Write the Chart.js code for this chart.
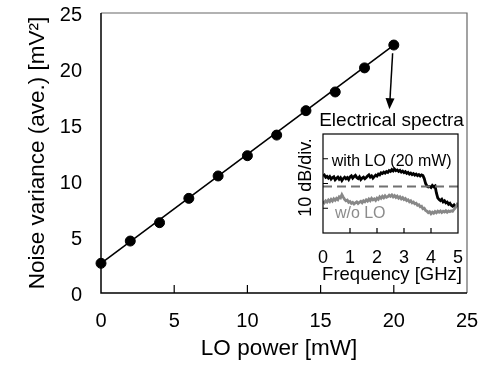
<!DOCTYPE html>
<html lang="en">
<head>
<meta charset="UTF-8">
<title>Noise variance vs LO power</title>
<script src="https://cdn.jsdelivr.net/npm/chart.js"></script>
<style>
  html, body { margin: 0; padding: 0; background: #fff; }
  #wrap { position: relative; width: 487px; height: 367px; }
  #mainChart { position: absolute; left: 0; top: 0; }
  #insetChart { position: absolute; left: 280px; top: 100px; }
</style>
</head>
<body>
<div id="wrap">
  <canvas id="mainChart" width="487" height="367" style="width:487px;height:367px"></canvas>
  <canvas id="insetChart" width="187" height="190" style="width:187px;height:190px"></canvas>
</div>
<script>
// main plot: noise variance vs LO power
const loPower = [0, 2, 4, 6, 8, 10, 12, 14, 16, 18, 20];
const noiseVar = [2.65, 4.64, 6.28, 8.45, 10.45, 12.26, 14.1, 16.28, 17.95, 20.1, 22.14];
const fitPower = [0, 20];
const fitVar = [2.65, 22.14];
const xTicks = [0, 5, 10, 15, 20, 25];
const yTicks = [0, 5, 10, 15, 20, 25];
// arrow from the 20 mW point down to the inset (data units)
const arrowStart = [19.92, 21.4];
const arrowEnd = [19.7, 16.4];

// inset: electrical spectra (10 dB/div, values in divisions)
const freq = [0.00, 0.05, 0.10, 0.15, 0.20, 0.25, 0.30, 0.35, 0.40, 0.45,
  0.50, 0.55, 0.60, 0.65, 0.70, 0.75, 0.80, 0.85, 0.90, 0.95,
  1.00, 1.05, 1.10, 1.15, 1.20, 1.25, 1.30, 1.35, 1.40, 1.45,
  1.50, 1.55, 1.60, 1.65, 1.70, 1.75, 1.80, 1.85, 1.90, 1.95,
  2.00, 2.05, 2.10, 2.15, 2.20, 2.25, 2.30, 2.35, 2.40, 2.45,
  2.50, 2.55, 2.60, 2.65, 2.70, 2.75, 2.80, 2.85, 2.90, 2.95,
  3.00, 3.05, 3.10, 3.15, 3.20, 3.25, 3.30, 3.35, 3.40, 3.45,
  3.50, 3.55, 3.60, 3.65, 3.70, 3.75, 3.80, 3.85, 3.90, 3.95,
  4.00, 4.05, 4.10, 4.15, 4.20, 4.25, 4.30, 4.35, 4.40, 4.45,
  4.50, 4.55, 4.60, 4.65, 4.70, 4.75, 4.80, 4.85, 4.90, 4.95, 5.00];
const withLO = [2.30, 2.34, 2.25, 2.29, 2.22, 2.28, 2.18, 2.24, 2.27, 2.15,
  2.21, 2.26, 2.17, 2.23, 2.12, 2.20, 2.25, 2.19, 2.24, 2.16,
  2.27, 2.31, 2.22, 2.28, 2.33, 2.24, 2.20, 2.27, 2.16, 2.22,
  2.26, 2.19, 2.24, 2.30, 2.35, 2.26, 2.31, 2.22, 2.28, 2.34,
  2.30, 2.38, 2.35, 2.43, 2.40, 2.46, 2.42, 2.48, 2.45, 2.52,
  2.49, 2.56, 2.51, 2.58, 2.52, 2.55, 2.49, 2.53, 2.46, 2.50,
  2.44, 2.48, 2.41, 2.45, 2.38, 2.42, 2.36, 2.40, 2.34, 2.38,
  2.32, 2.36, 2.30, 2.35, 2.32, 2.20, 2.00, 1.90, 1.86, 1.88,
  1.84, 1.92, 1.87, 1.90, 1.62, 1.42, 1.35, 1.31, 1.36, 1.26,
  1.30, 1.22, 1.25, 1.16, 1.20, 1.12, 1.08, 1.13, 1.04, 1.10, 1.20];
const withoutLO = [1.28, 1.22, 1.30, 1.25, 1.33, 1.27, 1.36, 1.29, 1.38, 1.32,
  1.40, 1.35, 1.46, 1.42, 1.55, 1.45, 1.36, 1.30, 1.33, 1.24,
  1.27, 1.20, 1.24, 1.17, 1.22, 1.26, 1.19, 1.24, 1.28, 1.22,
  1.30, 1.26, 1.34, 1.29, 1.37, 1.31, 1.40, 1.34, 1.38, 1.32,
  1.41, 1.36, 1.46, 1.40, 1.48, 1.42, 1.50, 1.44, 1.47, 1.53,
  1.48, 1.54, 1.46, 1.51, 1.44, 1.49, 1.41, 1.46, 1.38, 1.43,
  1.35, 1.39, 1.31, 1.34, 1.26, 1.30, 1.22, 1.25, 1.18, 1.20,
  1.12, 1.14, 1.06, 1.08, 0.98, 1.00, 0.91, 0.88, 0.82, 0.86,
  0.78, 0.84, 0.80, 0.87, 0.82, 0.88, 0.84, 0.89, 0.83, 0.88,
  0.85, 0.90, 0.84, 0.89, 0.86, 0.90, 0.88, 0.95, 1.02, 1.10, 1.22];
const dashLevel = 1.88;
const freqTicks = [0, 1, 2, 3, 4, 5];
const divTicks = [1, 2, 3];

const FONT = "'Liberation Sans', Arial, sans-serif";
Chart.defaults.font.family = FONT;
Chart.defaults.color = '#000';

function pts(xs, ys) {
  return xs.map((x, i) => ({ x: x, y: ys[i] }));
}

const mainDeco = {
  id: 'mainDeco',
  beforeDatasetsDraw(chart) {
    const { ctx, chartArea: a, scales } = chart;
    ctx.save();
    // top and right frame
    ctx.strokeStyle = '#666';
    ctx.lineWidth = 1.2;
    ctx.beginPath();
    ctx.moveTo(a.left, a.top);
    ctx.lineTo(a.right, a.top);
    ctx.lineTo(a.right, a.bottom);
    ctx.stroke();
    // axes
    ctx.strokeStyle = '#000';
    ctx.lineWidth = 1.5;
    ctx.beginPath();
    ctx.moveTo(a.left, a.top);
    ctx.lineTo(a.left, a.bottom);
    ctx.lineTo(a.right, a.bottom);
    ctx.stroke();
    // inward ticks on x axis
    ctx.lineWidth = 1.2;
    ctx.beginPath();
    xTicks.slice(1, -1).forEach(v => {
      const px = scales.x.getPixelForValue(v);
      ctx.moveTo(px, a.bottom);
      ctx.lineTo(px, a.bottom - 8);
    });
    ctx.stroke();

    // tick labels and titles
    ctx.fillStyle = '#000';
    ctx.font = '20px ' + FONT;
    ctx.textBaseline = 'alphabetic';
    ctx.textAlign = 'center';
    xTicks.forEach(v => ctx.fillText(String(v), scales.x.getPixelForValue(v), 327));
    ctx.textAlign = 'right';
    yTicks.forEach(v => ctx.fillText(String(v), 82, scales.y.getPixelForValue(v) + 8));

    ctx.font = '22.5px ' + FONT;
    ctx.textAlign = 'center';
    ctx.fillText('LO power [mW]', 279, 355);

    ctx.save();
    ctx.translate(43.5, (a.top + a.bottom) / 2);
    ctx.rotate(-Math.PI / 2);
    ctx.font = '22.5px ' + FONT;
    ctx.textAlign = 'center';
    ctx.fillText('Noise variance (ave.) [mV²]', 0, 0);
    ctx.restore();
    ctx.restore();
  },
  afterDatasetsDraw(chart) {
    const { ctx, scales } = chart;
    const x0 = scales.x.getPixelForValue(arrowStart[0]);
    const y0 = scales.y.getPixelForValue(arrowStart[1]);
    const x1 = scales.x.getPixelForValue(arrowEnd[0]);
    const y1 = scales.y.getPixelForValue(arrowEnd[1]);
    const ang = Math.atan2(y1 - y0, x1 - x0);
    const c = Math.cos(ang), s = Math.sin(ang);
    ctx.save();
    ctx.strokeStyle = '#000';
    ctx.fillStyle = '#000';
    ctx.lineWidth = 1.5;
    ctx.beginPath();
    ctx.moveTo(x0, y0);
    ctx.lineTo(x1 - 8 * c, y1 - 8 * s);
    ctx.stroke();
    ctx.beginPath();
    ctx.moveTo(x1, y1);
    ctx.lineTo(x1 - 11 * c + 4.5 * s, y1 - 11 * s - 4.5 * c);
    ctx.lineTo(x1 - 11 * c - 4.5 * s, y1 - 11 * s + 4.5 * c);
    ctx.closePath();
    ctx.fill();
    ctx.restore();
  }
};

new Chart(document.getElementById('mainChart'), {
  type: 'scatter',
  data: {
    datasets: [
      {
        label: 'fit',
        data: pts(fitPower, fitVar),
        showLine: true,
        borderColor: '#000',
        borderWidth: 1.6,
        pointRadius: 0,
        clip: false
      },
      {
        label: 'Noise variance',
        data: pts(loPower, noiseVar),
        backgroundColor: '#000',
        borderColor: '#000',
        pointRadius: 5,
        clip: false
      }
    ]
  },
  options: {
    responsive: false,
    animation: false,
    layout: { padding: { top: 13, right: 20, left: 0, bottom: 0 } },
    plugins: { legend: { display: false }, tooltip: { enabled: false } },
    scales: {
      x: {
        type: 'linear', min: 0, max: 25,
        afterFit: s => { s.height = 74; },
        grid: { display: false, drawTicks: false },
        border: { display: false },
        ticks: { display: false }
      },
      y: {
        type: 'linear', min: 0, max: 25,
        afterFit: s => { s.width = 101; },
        grid: { display: false, drawTicks: false },
        border: { display: false },
        ticks: { display: false }
      }
    }
  },
  plugins: [mainDeco]
});

const insetDeco = {
  id: 'insetDeco',
  beforeDatasetsDraw(chart) {
    const { ctx, chartArea: a, scales } = chart;
    ctx.save();
    ctx.fillStyle = '#fff';
    ctx.fillRect(a.left, a.top, a.right - a.left, a.bottom - a.top);
    ctx.strokeStyle = '#000';
    ctx.lineWidth = 1.2;
    ctx.beginPath();
    freqTicks.slice(1, -1).forEach(v => {
      const px = scales.x.getPixelForValue(v);
      ctx.moveTo(px, a.bottom);
      ctx.lineTo(px, a.bottom - 5);
    });
    divTicks.forEach(v => {
      const py = scales.y.getPixelForValue(v);
      ctx.moveTo(a.left, py);
      ctx.lineTo(a.left + 5, py);
    });
    ctx.stroke();
    ctx.restore();
  },
  afterDraw(chart) {
    const { ctx, chartArea: a, scales } = chart;
    ctx.save();
    ctx.strokeStyle = '#000';
    ctx.lineWidth = 1.2;
    ctx.strokeRect(a.left, a.top, a.right - a.left, a.bottom - a.top);
    ctx.fillStyle = '#000';
    ctx.textAlign = 'center';
    ctx.textBaseline = 'alphabetic';
    ctx.font = '18px ' + FONT;
    freqTicks.forEach(v => ctx.fillText(String(v), scales.x.getPixelForValue(v), 163));
    ctx.font = '18.5px ' + FONT;
    ctx.fillText('Frequency [GHz]', 112, 180);
    ctx.font = '19px ' + FONT;
    ctx.fillText('Electrical spectra', 111.5, 26);
    ctx.save();
    ctx.translate(31, 77.5);
    ctx.rotate(-Math.PI / 2);
    ctx.font = '18px ' + FONT;
    ctx.fillText('10 dB/div.', 0, 0);
    ctx.restore();
    ctx.textAlign = 'left';
    ctx.font = '16px ' + FONT;
    ctx.fillText('with LO (20 mW)', scales.x.getPixelForValue(0.32), scales.y.getPixelForValue(2.72));
    ctx.fillStyle = '#8c8c8c';
    ctx.fillText('w/o LO', scales.x.getPixelForValue(0.44), scales.y.getPixelForValue(0.59));
    ctx.restore();
  }
};

new Chart(document.getElementById('insetChart'), {
  type: 'scatter',
  data: {
    datasets: [
      {
        label: 'dash',
        data: pts([0, 5], [dashLevel, dashLevel]),
        showLine: true,
        borderColor: '#707070',
        borderWidth: 2,
        borderDash: [9, 5],
        pointRadius: 0
      },
      {
        label: 'w/o LO',
        data: pts(freq, withoutLO),
        showLine: true,
        borderColor: '#888',
        borderWidth: 2.8,
        pointRadius: 0
      },
      {
        label: 'with LO (20 mW)',
        data: pts(freq, withLO),
        showLine: true,
        borderColor: '#000',
        borderWidth: 2.8,
        pointRadius: 0
      }
    ]
  },
  options: {
    responsive: false,
    animation: false,
    layout: { padding: { top: 34, right: 9, left: 0, bottom: 0 } },
    plugins: { legend: { display: false }, tooltip: { enabled: false } },
    scales: {
      x: {
        type: 'linear', min: 0, max: 5,
        afterFit: s => { s.height = 57; },
        grid: { display: false, drawTicks: false },
        border: { display: false },
        ticks: { display: false }
      },
      y: {
        type: 'linear', min: 0, max: 4,
        afterFit: s => { s.width = 43; },
        grid: { display: false, drawTicks: false },
        border: { display: false },
        ticks: { display: false }
      }
    }
  },
  plugins: [insetDeco]
});
</script>
</body>
</html>
